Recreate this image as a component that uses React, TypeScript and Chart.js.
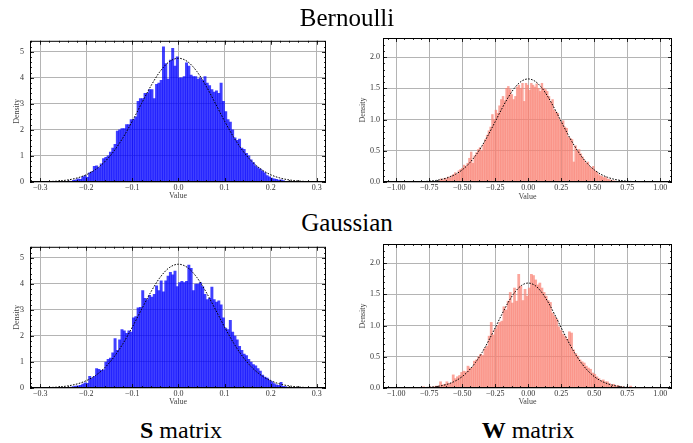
import React, { useEffect, useRef } from 'react';
import { Chart, registerables } from 'chart.js';

Chart.register(...registerables);

// ---------- data ----------
const sBinStart = -0.25;
const sBinWidth = 0.005;
const bernoulliS = [
  0.02, 0.01, 0.04, 0.02, 0.06, 0.08, 0.12, 0.10, 0.20, 0.25,
  0.18, 0.35, 0.40, 0.60, 0.62, 0.55, 0.70, 0.90, 0.95, 1.00,
  1.15, 1.30, 1.45, 1.95, 2.00, 2.05, 2.05, 2.20, 2.20, 2.40,
  2.40, 2.50, 3.10, 3.20, 3.20, 3.40, 3.40, 3.55, 3.55, 3.20,
  3.75, 3.80, 3.90, 5.19, 4.55, 3.95, 4.68, 5.13, 4.45, 4.80,
  4.00, 4.00, 4.05, 4.57, 4.45, 4.10, 4.05, 4.05, 3.95, 4.00,
  3.90, 4.05, 3.80, 3.70, 3.55, 3.45, 3.50, 3.40, 3.80, 3.10,
  2.70, 2.40, 2.30, 2.00, 1.70, 1.60, 1.65, 1.30, 1.25, 1.10,
  1.00, 0.85, 0.75, 0.62, 0.55, 0.50, 0.42, 0.35, 0.25, 0.20,
  0.15, 0.12, 0.10, 0.07, 0.08, 0.05, 0.03, 0.03, 0.02, 0.02,
];
const gaussianS = [
  0.02, 0.02, 0.03, 0.04, 0.05, 0.07, 0.08, 0.10, 0.15, 0.20,
  0.18, 0.45, 0.38, 0.45, 0.75, 0.72, 0.68, 0.70, 1.00, 1.10,
  1.15, 1.35, 1.90, 1.45, 1.85, 2.25, 2.20, 2.10, 2.20, 2.15,
  2.70, 2.75, 3.08, 3.10, 3.75, 3.45, 3.40, 3.56, 3.50, 3.60,
  3.93, 3.75, 4.12, 3.70, 4.12, 4.30, 4.45, 4.35, 4.50, 3.90,
  4.05, 4.10, 4.05, 4.10, 4.73, 4.60, 3.75, 4.00, 4.00, 4.05,
  3.90, 3.60, 3.40, 3.45, 3.88, 3.40, 3.30, 3.35, 3.20, 2.70,
  2.30, 2.25, 2.60, 2.15, 2.00, 1.85, 1.60, 1.45, 1.30, 1.25,
  1.10, 1.00, 0.90, 0.85, 0.75, 0.65, 0.50, 0.42, 0.38, 0.30,
  0.25, 0.17, 0.12, 0.10, 0.22, 0.06, 0.05, 0.03, 0.02, 0.02,
];
const wTopBinStart = -0.68;
const wTopBinWidth = 0.0134;
const bernoulliW = [
  0.02, 0.05, 0.03, 0.06, 0.05, 0.08, 0.06, 0.10, 0.12, 0.15,
  0.12, 0.18, 0.20, 0.22, 0.27, 0.25, 0.30, 0.38, 0.48, 0.30,
  0.42, 0.47, 0.52, 0.55, 0.50, 0.60, 0.68, 0.75, 0.82, 0.88,
  1.08, 1.00, 1.15, 1.10, 1.22, 1.32, 1.37, 1.30, 1.50, 1.53,
  1.48, 1.40, 1.32, 1.37, 1.52, 1.55, 1.50, 1.58, 1.29, 1.58,
  1.55, 1.47, 1.58, 1.55, 1.52, 1.57, 1.50, 1.45, 1.58, 1.50,
  1.48, 1.45, 1.37, 1.28, 1.32, 1.15, 1.12, 1.10, 1.00, 0.95,
  0.98, 0.88, 0.86, 0.72, 0.70, 0.68, 0.32, 0.58, 0.50, 0.52,
  0.45, 0.40, 0.35, 0.30, 0.32, 0.25, 0.22, 0.25, 0.18, 0.16,
  0.12, 0.10, 0.09, 0.07, 0.08, 0.05, 0.04, 0.03, 0.02, 0.02,
];
const wBotBinStart = -0.8;
const wBotBinWidth = 0.016;
const gaussianW = [
  0.02, 0.00, 0.01, 0.02, 0.00, 0.02, 0.03, 0.03, 0.10, 0.05,
  0.06, 0.10, 0.07, 0.08, 0.21, 0.15, 0.18, 0.20, 0.25, 0.27,
  0.26, 0.35, 0.32, 0.33, 0.43, 0.45, 0.50, 0.54, 0.52, 0.63,
  0.67, 0.83, 1.05, 0.85, 0.94, 1.00, 1.05, 1.07, 1.30, 1.25,
  1.39, 1.53, 1.36, 1.60, 1.39, 1.82, 1.63, 1.40, 1.58, 1.47,
  1.60, 1.82, 1.80, 1.73, 1.65, 1.68, 1.60, 1.53, 1.47, 1.40,
  1.37, 1.20, 1.15, 1.10, 0.98, 0.92, 0.86, 0.82, 0.78, 0.90,
  0.88, 0.61, 0.55, 0.51, 0.45, 0.42, 0.40, 0.35, 0.32, 0.30,
  0.24, 0.22, 0.18, 0.15, 0.12, 0.13, 0.10, 0.10, 0.07, 0.05,
  0.06, 0.03, 0.04, 0.02, 0.02, 0.01, 0.00, 0.01, 0.03, 0.01,
];

const sCurveX = [
  -0.30, -0.28, -0.26, -0.24, -0.22, -0.20, -0.18, -0.16, -0.14, -0.12, -0.10,
  -0.08, -0.06, -0.04, -0.02, 0.00, 0.02, 0.04, 0.06, 0.08, 0.10,
  0.12, 0.14, 0.16, 0.18, 0.20, 0.22, 0.24, 0.26, 0.28, 0.30,
];
const bernoulliSCurve = [
  0.008, 0.018, 0.039, 0.080, 0.154, 0.279, 0.478, 0.774, 1.185, 1.712, 2.338,
  3.018, 3.680, 4.241, 4.617, 4.750, 4.617, 4.241, 3.680, 3.018, 2.338,
  1.712, 1.185, 0.774, 0.478, 0.279, 0.154, 0.080, 0.039, 0.018, 0.008,
];
const gaussianSCurve = [
  0.008, 0.018, 0.039, 0.081, 0.155, 0.281, 0.480, 0.777, 1.189, 1.717, 2.344,
  3.025, 3.688, 4.250, 4.627, 4.760, 4.627, 4.250, 3.688, 3.025, 2.344,
  1.717, 1.189, 0.777, 0.480, 0.281, 0.155, 0.081, 0.039, 0.018, 0.008,
];
const wCurveX = [
  -1.00, -0.95, -0.90, -0.85, -0.80, -0.75, -0.70, -0.65, -0.60, -0.55, -0.50,
  -0.45, -0.40, -0.35, -0.30, -0.25, -0.20, -0.15, -0.10, -0.05, 0.00,
  0.05, 0.10, 0.15, 0.20, 0.25, 0.30, 0.35, 0.40, 0.45, 0.50,
  0.55, 0.60, 0.65, 0.70, 0.75, 0.80, 0.85, 0.90, 0.95, 1.00,
];
const bernoulliWCurve = [
  0.0003, 0.0007, 0.0016, 0.0034, 0.0069, 0.0134, 0.025, 0.0445, 0.076, 0.124, 0.194,
  0.292, 0.420, 0.579, 0.764, 0.967, 1.172, 1.361, 1.515, 1.615, 1.650,
  1.615, 1.515, 1.361, 1.172, 0.967, 0.764, 0.579, 0.420, 0.292, 0.194,
  0.124, 0.076, 0.0445, 0.025, 0.0134, 0.0069, 0.0034, 0.0016, 0.0007, 0.0003,
];
const gaussianWCurve = [
  0.0002, 0.0006, 0.0013, 0.0028, 0.0058, 0.0115, 0.022, 0.040, 0.069, 0.115, 0.183,
  0.279, 0.407, 0.567, 0.757, 0.965, 1.178, 1.376, 1.537, 1.643, 1.680,
  1.643, 1.537, 1.376, 1.178, 0.965, 0.757, 0.567, 0.407, 0.279, 0.183,
  0.115, 0.069, 0.040, 0.022, 0.0115, 0.0058, 0.0028, 0.0013, 0.0006, 0.0002,
];

const rowTitles = ['Bernoulli', 'Gaussian'];
const xAxisLabel = 'Value';
const yAxisLabel = 'Density';

// ---------- helpers ----------
const SERIF = '"Liberation Serif", "Times New Roman", serif';
const fmt = (v: number, d: number) => {
  const s = Math.abs(v) < 1e-9 ? (0).toFixed(d) : Math.abs(v).toFixed(d);
  return v < -1e-9 ? '\u2212' + s : s;
};

const inwardTicks = {
  id: 'inwardTicks',
  afterDatasetsDraw(chart: any, _args: any, opts: any) {
    const { ctx, chartArea: a, scales } = chart;
    const xs = scales.x;
    const ys = scales.y;
    ctx.save();
    ctx.strokeStyle = '#000';
    ctx.lineWidth = 0.8;
    const seg = (x1: number, y1: number, x2: number, y2: number) => {
      ctx.beginPath();
      ctx.moveTo(x1, y1);
      ctx.lineTo(x2, y2);
      ctx.stroke();
    };
    const doX = (v: number, len: number) => {
      const p = Math.round(xs.getPixelForValue(v)) + 0.5;
      if (p < a.left || p > a.right) return;
      seg(p, a.bottom, p, a.bottom - len);
      seg(p, a.top, p, a.top + len);
    };
    const doY = (v: number, len: number) => {
      const p = Math.round(ys.getPixelForValue(v)) + 0.5;
      if (p < a.top - 0.5 || p > a.bottom + 0.5) return;
      seg(a.left, p, a.left + len, p);
      seg(a.right, p, a.right - len, p);
    };
    const minorLoop = (min: number, max: number, step: number, f: (v: number) => void) => {
      const k0 = Math.ceil(min / step - 1e-6);
      const k1 = Math.floor(max / step + 1e-6);
      for (let k = k0; k <= k1; k++) f(k * step);
    };
    minorLoop(xs.min, xs.max, opts.xMinor, (v) => doX(v, 2));
    minorLoop(ys.min, ys.max, opts.yMinor, (v) => doY(v, 2));
    xs.ticks.forEach((t: any) => doX(t.value, 4));
    ys.ticks.forEach((t: any) => doY(t.value, 4));
    ctx.lineWidth = 1;
    ctx.strokeRect(a.left + 0.5, a.top + 0.5, a.right - a.left - 1, a.bottom - a.top - 1);
    ctx.restore();
  },
};

type PanelCfg = {
  left: number; top: number; width: number; height: number;
  yW: number; padTop: number; padRight: number; xH: number;
  binStart: number; binWidth: number; values: number[];
  curveX: number[]; curveY: number[];
  color: string;
  xMin: number; xMax: number; xStep: number; xDec: number; xMinor: number;
  yMax: number; yStep: number; yDec: number; yMinor: number;
  yLabelPad: number; yTitlePad: number; xTitlePad: number;
};

function Panel({ cfg }: { cfg: PanelCfg }) {
  const ref = useRef<HTMLCanvasElement>(null);
  useEffect(() => {
    if (!ref.current) return;
    const bars = cfg.values.map((y, i) => ({ x: cfg.binStart + cfg.binWidth * (i + 0.5), y }));
    const curve = cfg.curveX.map((x, i) => ({ x, y: cfg.curveY[i] }));
    const chart = new Chart(ref.current, {
      type: 'bar',
      data: {
        datasets: [
          {
            type: 'line',
            data: curve,
            borderColor: '#000',
            borderWidth: 1,
            borderDash: [1.6, 1.4],
            pointRadius: 0,
            cubicInterpolationMode: 'monotone',
            fill: false,
            order: 0,
          } as any,
          {
            type: 'bar',
            data: bars,
            backgroundColor: cfg.color,
            borderWidth: 0,
            barPercentage: 1,
            categoryPercentage: 1,
            order: 1,
          } as any,
        ],
      },
      options: {
        animation: false,
        responsive: false,
        maintainAspectRatio: false,
        events: [],
        layout: { padding: { top: cfg.padTop, right: cfg.padRight, left: 0, bottom: 0 } },
        plugins: {
          legend: { display: false },
          tooltip: { enabled: false },
          inwardTicks: { xMinor: cfg.xMinor, yMinor: cfg.yMinor },
        } as any,
        scales: {
          x: {
            type: 'linear',
            min: cfg.xMin,
            max: cfg.xMax,
            offset: false,
            afterFit: (s: any) => { s.height = cfg.xH; },
            grid: { offset: false, color: '#b4b4b4', lineWidth: 1, drawTicks: false },
            border: { display: false },
            ticks: {
              stepSize: cfg.xStep,
              includeBounds: false,
              autoSkip: false,
              maxRotation: 0,
              padding: 1,
              color: '#333',
              font: { family: SERIF, size: 8 },
              callback: (v: any) => fmt(Number(v), cfg.xDec),
            },
            title: {
              display: true,
              text: xAxisLabel,
              color: '#444',
              font: { family: SERIF, size: 8 },
              padding: { top: 0, bottom: cfg.xTitlePad },
            },
          },
          y: {
            type: 'linear',
            min: 0,
            max: cfg.yMax,
            afterFit: (s: any) => { s.width = cfg.yW; },
            grid: { color: '#b4b4b4', lineWidth: 1, drawTicks: false },
            border: { display: false },
            ticks: {
              stepSize: cfg.yStep,
              includeBounds: false,
              padding: cfg.yLabelPad,
              color: '#333',
              font: { family: SERIF, size: 8 },
              callback: (v: any) => fmt(Number(v), cfg.yDec),
            },
            title: {
              display: true,
              text: yAxisLabel,
              color: '#444',
              font: { family: SERIF, size: 8 },
              padding: { top: cfg.yTitlePad, bottom: 0 },
            },
          },
        },
      },
      plugins: [inwardTicks],
    } as any);
    return () => chart.destroy();
  }, [cfg]);
  return (
    <canvas
      ref={ref}
      width={cfg.width}
      height={cfg.height}
      style={{ position: 'absolute', left: cfg.left, top: cfg.top, width: cfg.width, height: cfg.height }}
    />
  );
}

const BLUE = 'rgba(0,0,255,0.75)';
const SALMON = 'rgba(250,128,114,0.7)';

const sAxis = {
  xMin: -0.322, xMax: 0.32, xStep: 0.1, xDec: 1, xMinor: 0.02,
  yMax: 5.42, yStep: 1, yDec: 0, yMinor: 0.2,
  yW: 30, padTop: 4, padRight: 14, xH: 23, yLabelPad: 6, yTitlePad: 11.9,
};
const wAxis = {
  xMin: -1.1, xMax: 1.089, xStep: 0.25, xDec: 2, xMinor: 0.0625,
  yMax: 2.305, yStep: 0.5, yDec: 1, yMinor: 0.1,
  yW: 38, padTop: 8, padRight: 13, xH: 23, yLabelPad: 3, yTitlePad: 13.5,
};

const panels: PanelCfg[] = [
  { ...sAxis, left: 0, top: 30, width: 340, height: 175, binStart: sBinStart, binWidth: sBinWidth, values: bernoulliS, curveX: sCurveX, curveY: bernoulliSCurve, color: BLUE, xTitlePad: 4.5 },
  { ...wAxis, left: 345, top: 30, width: 340, height: 175, binStart: wTopBinStart, binWidth: wTopBinWidth, values: bernoulliW, curveX: wCurveX, curveY: bernoulliWCurve, color: SALMON, xTitlePad: 3.5 },
  { ...sAxis, yMax: 5.43, left: 0, top: 236, width: 340, height: 175, binStart: sBinStart, binWidth: sBinWidth, values: gaussianS, curveX: sCurveX, curveY: gaussianSCurve, color: BLUE, xTitlePad: 4.5 },
  { ...wAxis, left: 345, top: 236, width: 340, height: 175, binStart: wBotBinStart, binWidth: wBotBinWidth, values: gaussianW, curveX: wCurveX, curveY: gaussianWCurve, color: SALMON, xTitlePad: 4 },
];

const bigText: React.CSSProperties = {
  position: 'absolute',
  fontFamily: SERIF,
  fontSize: 24,
  color: '#000',
  lineHeight: '1',
  whiteSpace: 'nowrap',
  transform: 'translate(-50%, -50%)',
};

export default function App() {
  return (
    <div style={{ position: 'fixed', left: 0, top: 0, width: 693, height: 443, background: '#fff', overflow: 'hidden' }}>
      {panels.map((p, i) => <Panel key={i} cfg={p} />)}
      <div style={{ ...bigText, fontSize: 25, left: 347, top: 17 }}>{rowTitles[0]}</div>
      <div style={{ ...bigText, fontSize: 25, left: 347, top: 222 }}>{rowTitles[1]}</div>
      <div style={{ ...bigText, left: 181, top: 430 }}><b>S</b>&nbsp;matrix</div>
      <div style={{ ...bigText, left: 528, top: 430 }}><b>W</b>&nbsp;matrix</div>
    </div>
  );
}
